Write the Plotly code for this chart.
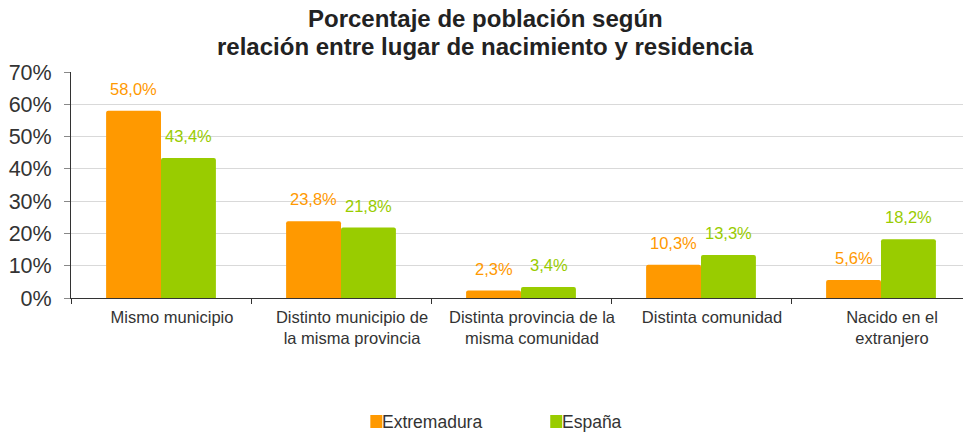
import plotly.graph_objects as go

categories = ["Mismo municipio", "Distinto municipio de<br>la misma provincia",
              "Distinta provincia de la<br>misma comunidad", "Distinta comunidad",
              "Nacido en el<br>extranjero"]
extremadura = [58.0, 23.8, 2.3, 10.3, 5.6]
espana = [43.4, 21.8, 3.4, 13.3, 18.2]
series_names = ["Extremadura", "España"]
title_lines = ["Porcentaje de población según",
               "relación entre lugar de nacimiento y residencia"]
y_ticks = [0, 10, 20, 30, 40, 50, 60, 70]
y_ticklabels = [f"{v}%" for v in y_ticks]

ORANGE = "#FF9900"
GREEN = "#99CC00"
FONT = "Liberation Sans, Arial, sans-serif"

# the page body margin is removed, so figure pixels == screen pixels
W, H = 963, 434
PLOT_L, PLOT_R, PLOT_T, PLOT_B = 70.5, 963, 72, 298
CAT_W = 180.1  # px per category; the plot runs past the window's right edge
L, R, T, B = PLOT_L, W - PLOT_R, PLOT_T, H - PLOT_B
PW, PH = PLOT_R - PLOT_L, PLOT_B - PLOT_T
x_range = [-0.5, -0.5 + PW / CAT_W]

def px_x(x):
    return (x - PLOT_L) / PW

def px_y(y):
    return (PLOT_B - y) / PH

def fmt(v):
    return f"{v:.1f}%".replace(".", ",")

fig = go.Figure()
fig.add_trace(go.Bar(x=categories, y=extremadura, name=series_names[0],
                     marker=dict(color=ORANGE, line=dict(width=0), cornerradius=2)))
fig.add_trace(go.Bar(x=categories, y=espana, name=series_names[1],
                     marker=dict(color=GREEN, line=dict(width=0), cornerradius=2)))

for c, v in zip(categories, extremadura):
    fig.add_annotation(x=c, y=v, text=fmt(v), showarrow=False, xshift=-27.5, yshift=11,
                       yanchor="bottom", font=dict(color=ORANGE, size=16.5, family=FONT))
for c, v in zip(categories, espana):
    fig.add_annotation(x=c, y=v, text=fmt(v), showarrow=False, xshift=27.5, yshift=11,
                       yanchor="bottom", font=dict(color=GREEN, size=16.5, family=FONT))

# Title (two lines, tight spacing as in the reference)
for line, yc in zip(title_lines, [18.5, 46]):
    fig.add_annotation(xref="paper", yref="paper", x=px_x(485), y=px_y(yc),
                       xanchor="center", yanchor="middle", showarrow=False,
                       text=f"<b>{line}</b>",
                       font=dict(family=FONT, size=24, color="#222222"))

# Legend (manual, compact spacing like the reference)
legend_items = [(series_names[0], ORANGE, 370), (series_names[1], GREEN, 550)]
for name, col, x0 in legend_items:
    fig.add_shape(type="rect", xref="paper", yref="paper",
                  x0=px_x(x0), x1=px_x(x0 + 12), y0=px_y(428), y1=px_y(415),
                  fillcolor=col, line=dict(width=0))
    fig.add_annotation(xref="paper", yref="paper", x=px_x(x0 + 10), y=px_y(422),
                       xanchor="left", yanchor="middle", showarrow=False, text=name,
                       font=dict(family=FONT, size=17.5, color="#333333"))

fig.update_layout(
    width=W, height=H,
    margin=dict(l=L, r=R, t=T, b=B, autoexpand=False),
    paper_bgcolor="white", plot_bgcolor="white",
    barmode="group", bargap=0.39, bargroupgap=0,
    showlegend=False,
    font=dict(family=FONT, color="#333333"),
    xaxis=dict(range=x_range, showline=True, linecolor="#333333", linewidth=1,
               automargin=False,
               ticks="outside", tickson="boundaries", ticklen=5, tickcolor="#333333",
               ticklabelstandoff=4, ticklabelshift=11,
               tickfont=dict(size=16.5, color="#333333")),
    yaxis=dict(range=[0, 70], tickvals=y_ticks, ticktext=y_ticklabels, automargin=False,
               showline=True, linecolor="#333333", linewidth=1,
               ticks="outside", ticklen=6, tickcolor="#888888", ticklabelstandoff=8,
               showgrid=True, gridcolor="#d9d9d9", gridwidth=1,
               tickfont=dict(size=21.5, color="#333333"), zeroline=False),
)

fig.write_html("out.html", config={"displayModeBar": False},
               post_script="document.body.style.margin='0';document.body.style.overflow='hidden';")
